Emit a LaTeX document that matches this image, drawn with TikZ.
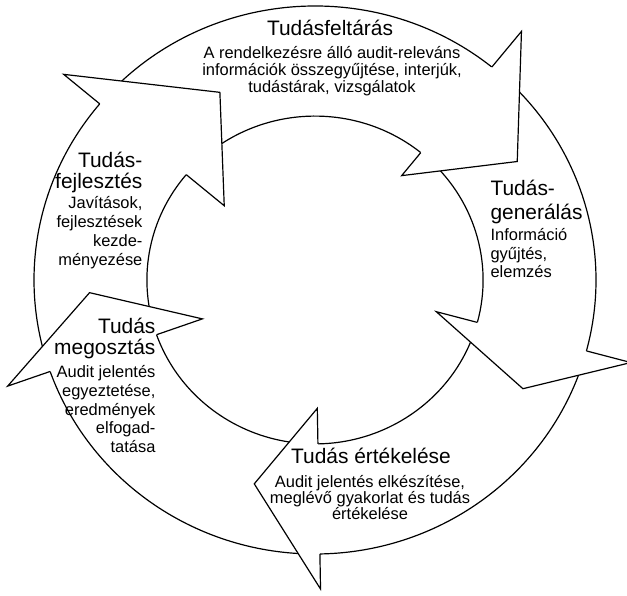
\documentclass[tikz,border=0pt]{standalone}
\usepackage{fontspec}
\setmainfont{Liberation Sans}
\usepackage{tikz}

% tail / base / tip angle / tip radius / inner barb / outer barb
\newcommand{\arrowdata}{138/51/31/233/136/324, 49/-15/-28.2/233/124/323,
  -17/-89/-106.2/215/130/313, -91/-160.5/-176.7/223/118/322,
  197.5/140/116.3/212/117/324}

\begin{document}
\begin{tikzpicture}[x=1bp, y=1bp, line width=1.2pt, line join=miter,
    cyclehead/.style={inner sep=0pt, font=\fontsize{21}{#1}\selectfont},
    cycletext/.style={inner sep=0pt, font=\fontsize{16.5}{#1}\selectfont}]
	\useasboundingbox (-315,-316) rectangle (312,280);

	\begin{scope}[xscale=1.0126, yscale=0.9874]
		% bands
		\foreach \tl/\bs/\ta/\tr/\bi/\bo in \arrowdata {
			\draw (\tl:277.5bp) arc[start angle=\tl, end angle=\bs, radius=277.5bp];
			\draw (\tl:166bp) arc[start angle=\tl, end angle=\bs, radius=166bp];
		}
		% heads on top of the next tails
		\foreach \tl/\bs/\ta/\tr/\bi/\bo in \arrowdata {
			\fill[white] (\bs:\bo bp) -- (\ta:\tr bp) -- (\bs:\bi bp) -- cycle;
			\draw (\bs:277.5bp) -- (\bs:\bo bp) -- (\ta:\tr bp) -- (\bs:\bi bp) -- (\bs:166bp);
		}
	\end{scope}

	\node[cyclehead=23, anchor=north] (feltaras) at (15,260.5) {Tudásfeltárás};
	\node[cycletext=17, anchor=north, align=center] (feltarasszoveg) at (17,234)
		{A rendelkezésre álló audit-releváns\\információk összegyűjtése, interjúk,\\tudástárak, vizsgálatok};

	\node[cyclehead=24, anchor=north west, align=left] (generalas) at (175,100.5) {Tudás-\\generálás};
	\node[cycletext=18.5, anchor=north west, align=left] (generalasszoveg) at (175,52)
		{Információ\\gyűjtés,\\elemzés};

	\node[cyclehead=21, anchor=north] (ertekeles) at (56,-167.5) {Tudás értékelése};
	\node[cycletext=16, anchor=north, align=center] (ertekelesszoveg) at (55,-195)
		{Audit jelentés elkészítése,\\meglévő gyakorlat és tudás\\értékelése};

	\node[cyclehead=22, anchor=north east, align=right] (megosztas) at (-159,-37) {Tudás\\megosztás};
	\node[cycletext=19, anchor=north east, align=right] (megosztasszoveg) at (-159,-84.5)
		{Audit jelentés\\egyeztetése,\\eredmények\\elfogad-\\tatása};

	\node[cyclehead=21.5, anchor=north east, align=right] (fejlesztes) at (-172,128.5) {Tudás-\\fejlesztés};
	\node[cycletext=19, anchor=north east, align=right] (fejlesztesszoveg) at (-172,84)
		{Javítások,\\fejlesztések\\kezde-\\ményezése};
\end{tikzpicture}
\end{document}
